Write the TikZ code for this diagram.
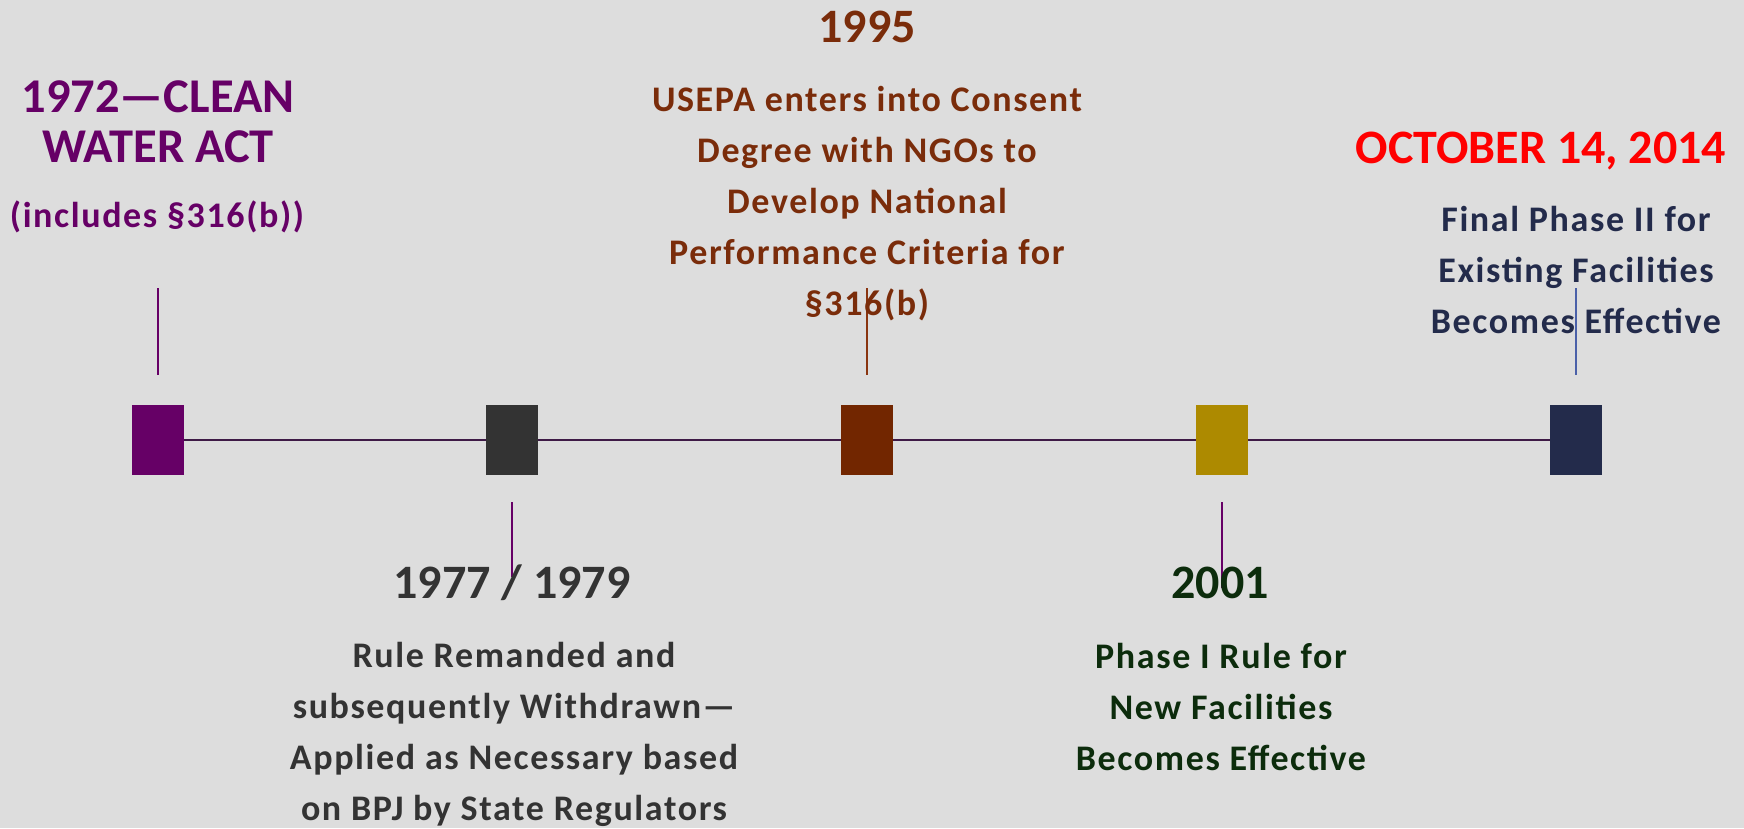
\documentclass[tikz,border=0pt]{standalone}
\usepackage{fontspec}
\setmainfont{Carlito}
\definecolor{bg}{HTML}{DDDDDD}
\definecolor{cwa}{HTML}{660066}
\definecolor{grayc}{HTML}{333333}
\definecolor{brownbox}{HTML}{722600}
\definecolor{browntxt}{HTML}{7A2C0A}
\definecolor{browntick}{HTML}{8A3510}
\definecolor{goldbox}{HTML}{AD8A00}
\definecolor{greentxt}{HTML}{0C2C0C}
\definecolor{navy}{HTML}{232B4B}
\definecolor{bluetick}{HTML}{4A60A8}
\definecolor{axis}{HTML}{3E1A46}
% multi-line nodes are anchored at the baseline of their last line
\tikzset{
  marker/.style={draw=none, minimum width=52pt, minimum height=70pt, inner sep=0pt},
  yearlabel/.style={anchor=base, inner sep=0pt, align=center, font=\bfseries\fontsize{48}{50}\selectfont},
  bodylabel/.style={anchor=base, inner sep=0pt, align=center,
    font=\bfseries\fontsize{36}{50.7}\selectfont\addfontfeature{LetterSpace=4.5}},
  tick/.style={line width=1.8pt},
  axisline/.style={draw=axis, line width=2pt}
}
\begin{document}
\begin{tikzpicture}[x=1pt, y=-1pt]
\fill[bg] (0,0) rectangle (1744,828);
\useasboundingbox (0,0) rectangle (1744,828);

% timeline markers
\node[marker, fill=cwa]      (s1) at (158,440)  {};
\node[marker, fill=grayc]    (s2) at (512,440)  {};
\node[marker, fill=brownbox] (s3) at (867,440)  {};
\node[marker, fill=goldbox]  (s4) at (1222,440) {};
\node[marker, fill=navy]     (s5) at (1576,440) {};

% axis between markers
\draw[axisline] (s1.east) -- (s2.west);
\draw[axisline] (s2.east) -- (s3.west);
\draw[axisline] (s3.east) -- (s4.west);
\draw[axisline] (s4.east) -- (s5.west);

% leader ticks
\coordinate (k1a) at (158,288);  \coordinate (k1b) at (158,375);
\coordinate (k2a) at (512,502);  \coordinate (k2b) at (512,577);
\coordinate (k3a) at (867,288);  \coordinate (k3b) at (867,375);
\coordinate (k4a) at (1222,502); \coordinate (k4b) at (1222,588);
\coordinate (k5a) at (1576,288); \coordinate (k5b) at (1576,375);
\draw[tick, cwa]       (k1a) -- (k1b);
\draw[tick, cwa]       (k2a) -- (k2b);
\draw[tick, browntick] (k3a) -- (k3b);
\draw[tick, cwa]       (k4a) -- (k4b);
\draw[tick, bluetick]  (k5a) -- (k5b);

% 1972
\node[yearlabel, text=cwa, font=\bfseries\fontsize{48.5}{50}\selectfont] (y1) at (158,162) {1972—CLEAN\\WATER ACT};
\node[bodylabel, text=cwa] (b1) at (157,227) {(includes §316(b))};

% 1977 / 1979
\node[yearlabel, text=grayc] (y2) at (512,598) {1977 / 1979};
\node[bodylabel, text=grayc] (b2) at (514,820) {Rule Remanded and\\subsequently Withdrawn—\\Applied as Necessary based\\on BPJ by State Regulators};

% 1995
\node[yearlabel, text=browntxt] (y3) at (867,42) {1995};
\node[bodylabel, text=browntxt, font=\bfseries\fontsize{36}{51}\selectfont\addfontfeature{LetterSpace=4.5}] (b3) at (867,315) {USEPA enters into Consent\\Degree with NGOs to\\Develop National\\Performance Criteria for\\§316(b)};

% 2001
\node[yearlabel, text=greentxt] (y4) at (1220,598) {2001};
\node[bodylabel, text=greentxt] (b4) at (1221,770) {Phase I Rule for\\New Facilities\\Becomes Effective};

% 2014
\node[yearlabel, text=red] (y5) at (1541,163) {OCTOBER 14, 2014};
\node[bodylabel, text=navy] (b5) at (1576,333) {Final Phase II for\\Existing Facilities\\Becomes Effective};
\end{tikzpicture}
\end{document}
